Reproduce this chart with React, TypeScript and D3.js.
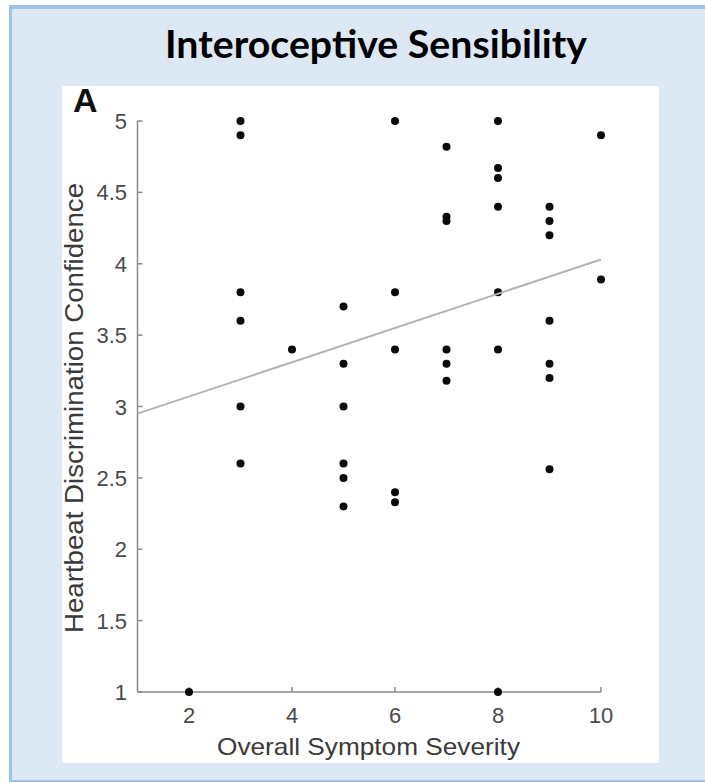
import React from "react";
import * as d3 from "d3";

// Overall symptom severity (x) and heartbeat discrimination confidence (y), one entry per participant
const severity = [
  2,
  3, 3, 3, 3, 3, 3,
  4,
  5, 5, 5, 5, 5, 5,
  6, 6, 6, 6, 6,
  7, 7, 7, 7, 7, 7,
  8, 8, 8, 8, 8, 8, 8,
  9, 9, 9, 9, 9, 9, 9,
  10, 10,
];
const confidence = [
  1.0,
  5.0, 4.9, 3.8, 3.6, 3.0, 2.6,
  3.4,
  3.7, 3.3, 3.0, 2.6, 2.5, 2.3,
  5.0, 3.8, 3.4, 2.4, 2.33,
  4.82, 4.33, 4.3, 3.4, 3.3, 3.18,
  5.0, 4.67, 4.6, 4.4, 3.8, 3.4, 1.0,
  4.4, 4.3, 4.2, 3.6, 3.3, 3.2, 2.56,
  4.9, 3.89,
];

// Least-squares fit line, endpoints at the x-axis limits
const fitX = [1, 10];
const fitY = [2.95, 4.03];

const xTicks = [2, 4, 6, 8, 10];
const yTicks = [1, 1.5, 2, 2.5, 3, 3.5, 4, 4.5, 5];

const title = "Interoceptive Sensibility";
const panelLetter = "A";
const xLabel = "Overall Symptom Severity";
const yLabel = "Heartbeat Discrimination Confidence";

const W = 705;
const H = 782;

export default function App() {
  const x = d3.scaleLinear().domain([1, 10]).range([137.5, 601]);
  const y = d3.scaleLinear().domain([1, 5]).range([692, 121]);

  const points = severity.map((s, i) => ({ s, c: confidence[i] }));
  const fit = d3
    .line<number>()
    .x((_, i) => x(fitX[i]))
    .y((v) => y(v))(fitY);

  const axisColor = "#8a8a8a";
  const tickTextColor = "#4a4a4a";
  const font = "'Liberation Sans', Arial, Helvetica, sans-serif";

  return (
    <svg
      width={W}
      height={H}
      style={{ position: "absolute", left: 0, top: 0, background: "#ffffff" }}
    >
      {/* outer panel */}
      <rect x={0} y={0} width={W} height={H} fill="#ffffff" />
      <rect x={9} y={5} width={W} height={776} fill="#dde8f5" />
      <line x1={9} y1={7} x2={W} y2={7} stroke="#9dc3e6" strokeWidth={4} />
      <line x1={10.5} y1={5} x2={10.5} y2={781} stroke="#9dc3e6" strokeWidth={3} />
      <line x1={9} y1={781} x2={W} y2={781} stroke="#9dc3e6" strokeWidth={2} />

      <text
        x={376}
        y={58}
        textAnchor="middle"
        fontFamily="Lato, 'Open Sans', sans-serif"
        fontWeight={700}
        fontSize={39}
        textLength={422}
        lengthAdjust="spacingAndGlyphs"
        fill="#000"
      >
        {title}
      </text>

      {/* figure area */}
      <rect x={62} y={86} width={597} height={677} fill="#ffffff" />

      <text
        x={73}
        y={112}
        fontFamily={font}
        fontWeight={700}
        fontSize={34}
        fill="#111"
      >
        {panelLetter}
      </text>

      {/* axes */}
      <g stroke={axisColor} strokeWidth={1.5} fill="none">
        <line x1={x(1)} y1={y(1)} x2={x(10)} y2={y(1)} />
        <line x1={x(1)} y1={y(1)} x2={x(1)} y2={y(5)} />
        {xTicks.map((t) => (
          <line key={"xt" + t} x1={x(t)} x2={x(t)} y1={y(1)} y2={y(1) - 5} />
        ))}
        {yTicks.map((t) => (
          <line key={"yt" + t} x1={x(1)} x2={x(1) + 5} y1={y(t)} y2={y(t)} />
        ))}
      </g>

      <g fontFamily={font} fontSize={22} fill={tickTextColor}>
        {xTicks.map((t) => (
          <text key={"xl" + t} x={x(t)} y={723} textAnchor="middle">
            {t}
          </text>
        ))}
        {yTicks.map((t) => (
          <text key={"yl" + t} x={127} y={y(t) + 8} textAnchor="end">
            {t}
          </text>
        ))}
      </g>

      <text
        x={368.5}
        y={755}
        textAnchor="middle"
        fontFamily={font}
        fontSize={24}
        textLength={303}
        lengthAdjust="spacingAndGlyphs"
        fill="#3a3a3a"
      >
        {xLabel}
      </text>
      <text
        transform={`translate(83, 408) rotate(-90)`}
        textAnchor="middle"
        fontFamily={font}
        fontSize={25}
        textLength={450}
        lengthAdjust="spacingAndGlyphs"
        fill="#3a3a3a"
      >
        {yLabel}
      </text>

      {/* data */}
      <g fill="#0a0a0a">
        {points.map((p, i) => (
          <circle key={i} cx={x(p.s)} cy={y(p.c)} r={4} />
        ))}
      </g>
      <path d={fit ?? ""} stroke="#b4b4b4" strokeWidth={2} fill="none" />
    </svg>
  );
}
